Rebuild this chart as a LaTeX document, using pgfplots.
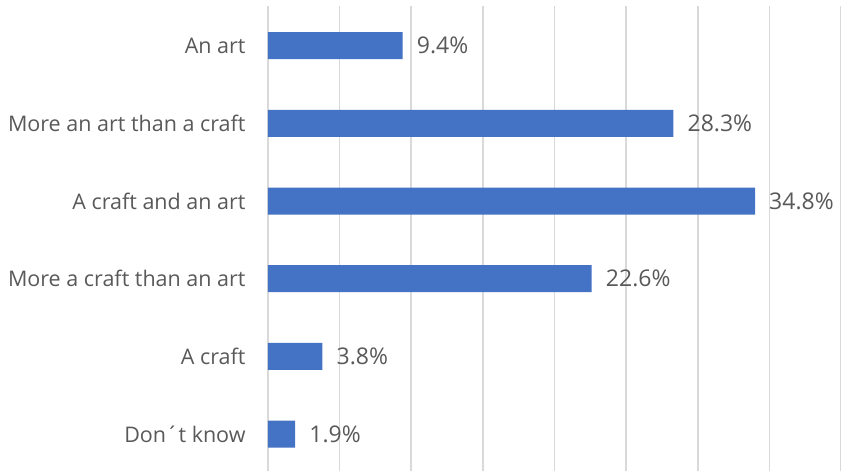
\documentclass[border=0pt]{standalone}
\usepackage{pgfplots}
\pgfplotsset{compat=1.18}
\usepackage{pgfplotstable}
\usepackage{fontspec}
\setmainfont{Open Sans}
\definecolor{barblue}{HTML}{4472C4}
\definecolor{txtgray}{HTML}{595959}
\definecolor{gridgray}{HTML}{D9D9D9}

% y = position (0 = bottom), x = bar length, lab = printed label
\pgfplotstableread{
y x lab
0 1.9 1.9\%
1 3.8 3.8\%
2 22.6 22.6\%
3 34.0 34.8\%
4 28.3 28.3\%
5 9.4 9.4\%
}\answers

\begin{document}
\begin{tikzpicture}
\begin{axis}[
  xbar,
  scale only axis,
  width=573pt, height=465pt,
  xmin=0, xmax=40,
  ymin=-0.475, ymax=5.51,
  xtick={0,5,...,40}, xticklabels={},
  xmajorgrids,
  major grid style={gridgray, line width=1.6pt},
  axis line style={draw=none},
  tick style={draw=none},
  ytick={0,...,5},
  yticklabels={Don´t know, A craft, More a craft than an art, A craft and an art, More an art than a craft, An art},
  yticklabel style={font=\fontsize{21.5}{25}\selectfont, text=txtgray, inner sep=0pt, xshift=-18pt},
  bar width=27pt,
  bar shift=0pt,
  nodes near coords,
  point meta=explicit symbolic,
  every node near coord/.append style={font=\fontsize{23}{27}\selectfont, text=txtgray, anchor=west, inner sep=0pt, xshift=14pt},
]
\addplot[fill=barblue, draw=none] table[x=x, y=y, meta=lab] {\answers};
\end{axis}
\pgfresetboundingbox
\path ([xshift=-268pt]current axis.south west) rectangle ([yshift=6pt]current axis.north east);
\end{tikzpicture}
\end{document}
